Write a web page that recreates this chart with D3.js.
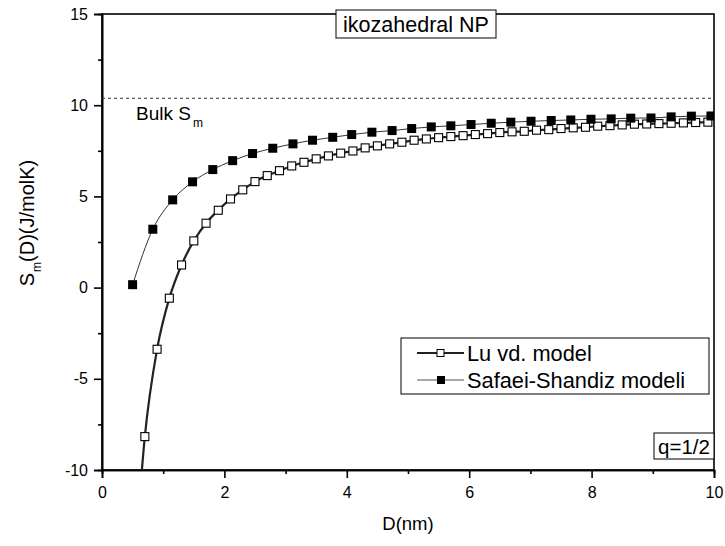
<!DOCTYPE html>
<html><head><meta charset="utf-8">
<script src="https://cdn.jsdelivr.net/npm/d3@7"></script>
<style>body{margin:0;background:#fff;} text{font-family:Arial,"Liberation Sans",sans-serif;}</style>
</head><body>
<svg id="c" width="725" height="546"></svg>
<script>
// Lu vd. model (open squares)
const luD = [0.5,0.7,0.9,1.1,1.3,1.5,1.7,1.9,2.1,2.3,2.5,2.7,2.9,3.1,3.3,3.5,3.7,3.9,4.1,4.3,4.5,4.7,4.9,5.1,5.3,5.5,5.7,5.9,6.1,6.3,6.5,6.7,6.9,7.1,7.3,7.5,7.7,7.9,8.1,8.3,8.5,8.7,8.9,9.1,9.3,9.5,9.7,9.9];
const luS = [-17,-8.17,-3.38,-0.58,1.24,2.56,3.53,4.24,4.86,5.36,5.81,6.14,6.41,6.67,6.87,7.06,7.22,7.37,7.49,7.66,7.77,7.88,7.97,8.08,8.15,8.22,8.28,8.33,8.39,8.44,8.50,8.54,8.57,8.63,8.66,8.72,8.76,8.79,8.85,8.88,8.92,8.96,8.97,8.99,9.01,9.03,9.05,9.07];
// Safaei-Shandiz modeli (filled squares)
const ssD = [0.50,0.83,1.155,1.48,1.81,2.135,2.46,2.79,3.12,3.44,3.77,4.08,4.41,4.74,5.06,5.38,5.70,6.03,6.36,6.68,7.01,7.34,7.66,7.99,8.32,8.64,8.97,9.30,9.63,9.95];
const ssS = [0.16,3.20,4.81,5.80,6.47,6.96,7.35,7.64,7.88,8.08,8.24,8.39,8.52,8.61,8.72,8.81,8.87,8.94,9.01,9.07,9.12,9.16,9.19,9.23,9.25,9.29,9.30,9.36,9.40,9.41];
const bulkS = 10.38;
const xTicks = [0,2,4,6,8,10];
const yTicks = [-10,-5,0,5,10,15];
const seriesNames = ["Lu vd. model","Safaei-Shandiz modeli"];

const svg = d3.select("#c");
const L=102, R=714, T=14, B=470;
const x = d3.scaleLinear().domain([0,10]).range([L,R]);
const y = d3.scaleLinear().domain([-10,15]).range([B,T]);
const fmt = d => String(d);

svg.append("defs").append("clipPath").attr("id","clip")
  .append("rect").attr("x",L).attr("y",T).attr("width",R-L).attr("height",B-T);

// frame
svg.append("rect").attr("x",L).attr("y",T).attr("width",R-L).attr("height",B-T)
  .attr("fill","none").attr("stroke","#000").attr("stroke-width",1.6);

// axes
const xAxis = svg.append("g").attr("transform",`translate(0,${B})`)
  .call(d3.axisBottom(x).tickValues(xTicks).tickSize(8).tickPadding(9).tickFormat(fmt));
const xMinor = svg.append("g").attr("transform",`translate(0,${B})`)
  .call(d3.axisBottom(x).tickValues([1,3,5,7,9]).tickSize(4).tickFormat(""));
const yAxis = svg.append("g").attr("transform",`translate(${L},0)`)
  .call(d3.axisLeft(y).tickValues(yTicks).tickSize(8).tickPadding(6).tickFormat(fmt));
const yMinor = svg.append("g").attr("transform",`translate(${L},0)`)
  .call(d3.axisLeft(y).tickValues([-7.5,-2.5,2.5,7.5,12.5]).tickSize(4).tickFormat(""));
[xAxis,xMinor,yAxis,yMinor].forEach(g=>{
  g.select(".domain").attr("stroke","#000").attr("stroke-width",1.6);
  g.selectAll(".tick line").attr("stroke","#000").attr("stroke-width",1.6);
  g.selectAll(".tick text").attr("font-size",16).attr("fill","#000");
});

// bulk dashed line
svg.append("line").attr("x1",L).attr("x2",R).attr("y1",y(bulkS)).attr("y2",y(bulkS))
  .attr("stroke","#333").attr("stroke-width",1).attr("stroke-dasharray","3,3");
const bt = svg.append("text").attr("x",136).attr("y",120).attr("font-size",19).attr("fill","#000");
bt.append("tspan").text("Bulk S");
bt.append("tspan").attr("font-size",12).attr("dy",7).attr("dx",2).text("m");

const plot = svg.append("g").attr("clip-path","url(#clip)");
const line = d3.line().x(d=>x(d[0])).y(d=>y(d[1])).curve(d3.curveMonotoneX);
const lu = luD.map((d,i)=>[d,luS[i]]);
const ss = ssD.map((d,i)=>[d,ssS[i]]);

plot.append("path").datum(lu).attr("d",line).attr("fill","none").attr("stroke","#222").attr("stroke-width",2.2);
plot.append("path").datum(ss).attr("d",line).attr("fill","none").attr("stroke","#333").attr("stroke-width",1);

plot.selectAll(".lu").data(lu).enter().append("rect")
  .attr("x",d=>x(d[0])-4).attr("y",d=>y(d[1])-4).attr("width",8).attr("height",8)
  .attr("fill","#fff").attr("stroke","#000").attr("stroke-width",1.1);
plot.selectAll(".ss").data(ss).enter().append("rect")
  .attr("x",d=>x(d[0])-4.5).attr("y",d=>y(d[1])-4.5).attr("width",9).attr("height",9)
  .attr("fill","#000");

// title box
const tg = svg.append("g");
tg.append("rect").attr("x",336).attr("y",10).attr("width",160).attr("height",28)
  .attr("fill","#fff").attr("stroke","#000").attr("stroke-width",1);
tg.append("text").attr("x",416).attr("y",32).attr("text-anchor","middle").attr("font-size",21.5).text("ikozahedral NP");

// q box
const qg = svg.append("g");
qg.append("rect").attr("x",654).attr("y",433).attr("width",60).attr("height",26)
  .attr("fill","#fff").attr("stroke","#000").attr("stroke-width",1);
qg.append("text").attr("x",684).attr("y",453.5).attr("text-anchor","middle").attr("font-size",20.5).text("q=1/2");

// legend
const lg = svg.append("g");
lg.append("rect").attr("x",401).attr("y",338).attr("width",308).attr("height",56)
  .attr("fill","#fff").attr("stroke","#000").attr("stroke-width",1);
const ly = [353, 380];
lg.append("line").attr("x1",417).attr("x2",464).attr("y1",ly[0]).attr("y2",ly[0]).attr("stroke","#222").attr("stroke-width",2.2);
lg.append("rect").attr("x",437).attr("y",ly[0]-3.5).attr("width",7).attr("height",7).attr("fill","#fff").attr("stroke","#000");
lg.append("line").attr("x1",417).attr("x2",464).attr("y1",ly[1]).attr("y2",ly[1]).attr("stroke","#555").attr("stroke-width",1);
lg.append("rect").attr("x",437).attr("y",ly[1]-4).attr("width",8).attr("height",8).attr("fill","#000");
seriesNames.forEach((n,i)=>{
  lg.append("text").attr("x",467).attr("y",ly[i]+7.5).attr("font-size",21.8).text(n);
});

// axis titles
svg.append("text").attr("x",408).attr("y",530).attr("text-anchor","middle").attr("font-size",18.5).text("D(nm)");
const yl = svg.append("text").attr("transform","translate(34,223) rotate(-90)").attr("text-anchor","middle").attr("font-size",20);
yl.append("tspan").text("S");
yl.append("tspan").attr("font-size",12).attr("dy",7).attr("dx",1).text("m");
yl.append("tspan").attr("dy",-7).text("(D)(J/molK)");
</script>
</body></html>
